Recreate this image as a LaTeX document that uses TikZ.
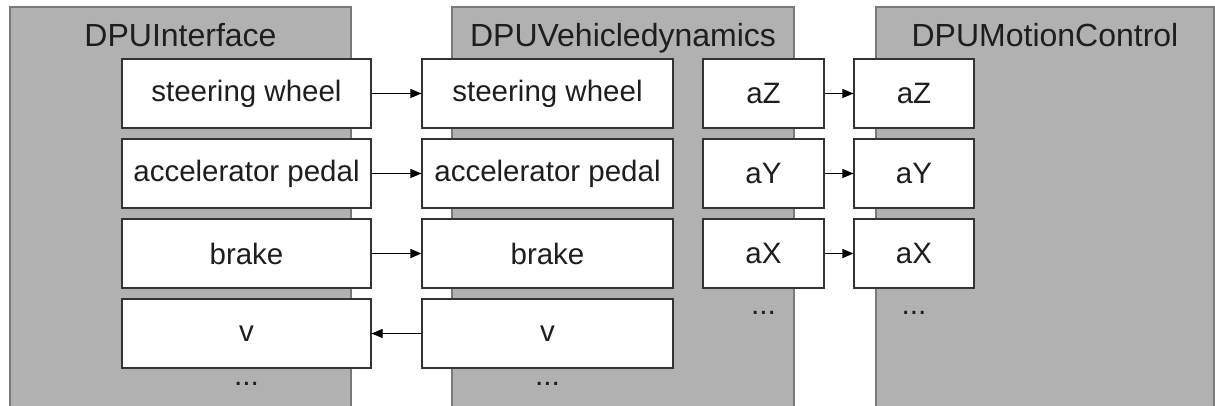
\documentclass[tikz,border=0pt]{standalone}
\usepackage{fontspec}
\setmainfont{Liberation Sans}
\usetikzlibrary{arrows.meta, positioning}
\definecolor{dpugray}{HTML}{B1B1B1}
\definecolor{dpuedge}{HTML}{7A7A7A}
\definecolor{inkdark}{HTML}{1E1E1E}
\tikzset{
  ttl/.style={font=\fontsize{32}{36}\selectfont, text=inkdark, anchor=base},
  sigbox/.style={draw=black!80, fill=white, line width=1.2pt, minimum height=69pt, inner sep=0pt,
                 font=\fontsize{29.5}{34}\selectfont, text=inkdark},
  flow/.style={-{Triangle[length=11pt, width=9pt]}, line width=0.9pt, black},
  more/.style={font=\fontsize{30}{34}\selectfont, text=inkdark, anchor=base},
}
\begin{document}
\begin{tikzpicture}[x=1pt, y=-1pt]
  \useasboundingbox (0,0) rectangle (1215,406);
  % the three DPU panels, open at the bottom
  \foreach \n/\l/\r/\t in {iface/10/351/DPUInterface, vdyn/452/794/DPUVehicledynamics, mctrl/876/1214/DPUMotionControl} {
    \fill[dpugray] (\l,7) rectangle (\r,406);
    \draw[dpuedge, line width=1.2pt] (\l,406) -- (\l,7) -- (\r,7) -- (\r,406);
    \node[ttl] (\n) at ({(\l+\r)/2},47) {\t};
  }
  % driver signals
  \foreach \i/\s in {1/steering wheel, 2/accelerator pedal, 3/brake, 4/v} {
    \node[sigbox, minimum width=249pt] (if\i) at (246.5,13.5+\i*80) {\s};
    \node[sigbox, minimum width=251pt] (vd\i) at (547.5,13.5+\i*80) {\s};
  }
  % accelerations
  \foreach \i/\s in {1/aZ, 2/aY, 3/aX} {
    \node[sigbox, minimum width=121pt] (va\i) at (763.5,13.5+\i*80) {\s};
    \node[sigbox, minimum width=120pt] (mc\i) at (914,13.5+\i*80) {\s};
  }
  \foreach \i/\w in {1/0.9, 2/0.9, 3/1.6} {
    \draw[flow, line width=\w pt] (if\i) -- (vd\i);
    \draw[flow, line width=\w pt] (va\i) -- (mc\i);
  }
  \draw[flow] (vd4) -- (if4);
  \node[more] (ifmore) at (246.5,385) {...};
  \node[more] (vdmore) at (547.5,385) {...};
  \node[more] (vamore) at (763.5,314) {...};
  \node[more] (mcmore) at (914,314) {...};
\end{tikzpicture}
\end{document}
